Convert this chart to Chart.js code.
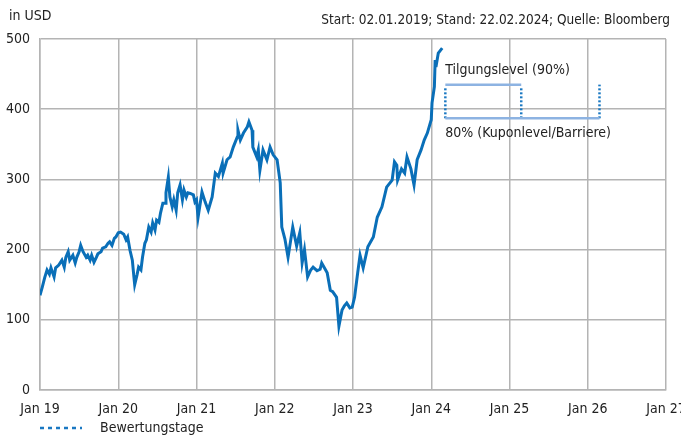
<!DOCTYPE html>
<html>
<head>
<meta charset="utf-8">
<script src="https://cdn.jsdelivr.net/npm/chart.js@4"></script>
<style>
html, body { margin: 0; padding: 0; background: #fff; }
</style>
</head>
<body>
<canvas id="chart" width="681" height="437"></canvas>
<script>
const FONT = "'Liberation Sans Narrow', 'DejaVu Sans Condensed', 'Arial Narrow', sans-serif";

// price history, x in decimal years
const dates = [
  2019.00, 2019.03, 2019.06, 2019.09, 2019.12, 2019.14, 2019.18, 2019.20, 2019.24, 2019.28,
  2019.31, 2019.33, 2019.36, 2019.38, 2019.42, 2019.45, 2019.47, 2019.50, 2019.52, 2019.55,
  2019.59, 2019.61, 2019.64, 2019.66, 2019.69, 2019.72, 2019.74, 2019.78, 2019.80, 2019.84,
  2019.87, 2019.89, 2019.92, 2019.95, 2019.97, 2020.00, 2020.03, 2020.07, 2020.10, 2020.12,
  2020.15, 2020.18, 2020.20, 2020.21, 2020.24, 2020.26, 2020.29, 2020.31, 2020.34, 2020.36,
  2020.39, 2020.42, 2020.44, 2020.47, 2020.49, 2020.52, 2020.54, 2020.57, 2020.60, 2020.61,
  2020.64, 2020.66, 2020.69, 2020.71, 2020.74, 2020.76, 2020.79, 2020.82, 2020.84, 2020.87,
  2020.89, 2020.92, 2020.96, 2020.98, 2021.00, 2021.02, 2021.07, 2021.11, 2021.15, 2021.20,
  2021.24, 2021.28, 2021.33, 2021.34, 2021.39, 2021.43, 2021.47, 2021.52, 2021.53, 2021.56,
  2021.60, 2021.65, 2021.67, 2021.71, 2021.72, 2021.77, 2021.79, 2021.81, 2021.85, 2021.90,
  2021.94, 2021.98, 2022.03, 2022.07, 2022.09, 2022.13, 2022.17, 2022.23, 2022.28, 2022.32,
  2022.35, 2022.38, 2022.42, 2022.46, 2022.49, 2022.54, 2022.58, 2022.60, 2022.67, 2022.71,
  2022.74, 2022.79, 2022.82, 2022.86, 2022.89, 2022.92, 2022.96, 2022.99, 2023.02, 2023.06,
  2023.09, 2023.13, 2023.19, 2023.26, 2023.31, 2023.37, 2023.43, 2023.50, 2023.53, 2023.56,
  2023.57, 2023.62, 2023.66, 2023.69, 2023.74, 2023.78, 2023.82, 2023.87, 2023.91, 2023.95,
  2024.00, 2024.01, 2024.04, 2024.05, 2024.06, 2024.09, 2024.14
];
const prices = [
  135, 147, 160, 171, 165, 174, 161, 174, 178, 185,
  175, 189, 197, 185, 192, 181, 189, 197, 206, 197,
  189, 192, 185, 192, 182, 189, 194, 197, 202, 204,
  209, 211, 206, 216, 218, 224, 225, 222, 214, 218,
  199, 185, 161, 150, 164, 175, 171, 189, 209, 214,
  232, 225, 238, 228, 242, 239, 252, 266, 266, 281,
  303, 275, 261, 271, 256, 281, 292, 271, 285, 275,
  281, 280, 278, 268, 271, 246, 282, 268, 256, 275,
  309, 304, 323, 309, 328, 332, 346, 360, 370, 356,
  366, 375, 382, 370, 346, 332, 342, 313, 342, 328,
  346, 335, 328, 295, 232, 215, 189, 232, 205, 224,
  181, 200, 161, 171, 175, 170, 172, 181, 167, 142,
  140, 132, 91, 114, 120, 124, 117, 118, 132, 167,
  192, 174, 204, 218, 246, 261, 289, 299, 325, 320,
  299, 315, 309, 332, 315, 292, 328, 342, 356, 366,
  385, 409, 432, 470, 460, 480, 487
];

const yearTicks = [2019, 2020, 2021, 2022, 2023, 2024, 2025, 2026, 2027];
const yearLabels = ['Jan 19', 'Jan 20', 'Jan 21', 'Jan 22', 'Jan 23', 'Jan 24', 'Jan 25', 'Jan 26', 'Jan 27'];

// valuation dates and product levels
const obsDates = [2024.18, 2025.15, 2026.15];
const obsTops = [430, 430, 435];
const redemptionLevel = 435;   // 90%
const couponLevel = 387;       // 80%

const lineBlue = '#0a6fb8';
const levelBlue = '#8db3e2';
const dotBlue = '#1a78c2';

const obsSets = obsDates.map((d, i) => ({
  data: [{ x: d, y: couponLevel }, { x: d, y: obsTops[i] }],
  borderColor: dotBlue,
  borderWidth: 2.5,
  borderDash: [2, 2],
  pointRadius: 0
}));

const textPlugin = {
  id: 'texts',
  afterDraw(chart) {
    const ctx = chart.ctx;
    const xs = chart.scales.x, ys = chart.scales.y;
    ctx.save();
    ctx.fillStyle = '#222';
    ctx.font = '14px ' + FONT;
    ctx.textBaseline = 'middle';
    ctx.textAlign = 'left';
    ctx.fillText('in USD', 9, 16);
    ctx.textAlign = 'right';
    ctx.font = '13.5px ' + FONT;
    ctx.fillText('Start: 02.01.2019; Stand: 22.02.2024; Quelle: Bloomberg', 670, 20);
    ctx.font = '14px ' + FONT;

    const lx = xs.getPixelForValue(obsDates[0]);
    ctx.textAlign = 'left';
    ctx.fillText('Tilgungslevel (90%)', lx, ys.getPixelForValue(redemptionLevel) - 14);
    ctx.fillText('80% (Kuponlevel/Barriere)', lx, ys.getPixelForValue(couponLevel) + 15);

    // legend
    ctx.strokeStyle = dotBlue;
    ctx.lineWidth = 2.5;
    ctx.setLineDash([4, 4]);
    ctx.beginPath();
    ctx.moveTo(40, 428);
    ctx.lineTo(82, 428);
    ctx.stroke();
    ctx.setLineDash([]);
    ctx.fillText('Bewertungstage', 100, 428);
    ctx.restore();
  }
};

new Chart(document.getElementById('chart').getContext('2d'), {
  type: 'line',
  data: {
    datasets: [
      {
        data: dates.map((d, i) => ({ x: d, y: prices[i] })),
        borderColor: lineBlue,
        borderWidth: 3,
        pointRadius: 0,
        tension: 0
      },
      {
        data: [{ x: obsDates[0], y: redemptionLevel }, { x: obsDates[1], y: redemptionLevel }],
        borderColor: levelBlue,
        borderWidth: 2.5,
        pointRadius: 0
      },
      {
        data: [{ x: obsDates[0], y: couponLevel }, { x: obsDates[2], y: couponLevel }],
        borderColor: levelBlue,
        borderWidth: 2.5,
        pointRadius: 0
      },
      ...obsSets
    ]
  },
  options: {
    responsive: false,
    devicePixelRatio: 1,
    animation: false,
    layout: { padding: { top: 39, right: 15, left: 0, bottom: 0 } },
    plugins: { legend: { display: false }, tooltip: { enabled: false } },
    scales: {
      x: {
        type: 'linear',
        min: 2019,
        max: 2027,
        afterBuildTicks: s => { s.ticks = yearTicks.map(v => ({ value: v })); },
        afterFit: s => { s.height = 47; s.paddingLeft = 0; s.paddingRight = 0; },
        grid: { color: '#b4b4b4', lineWidth: 1.5, drawTicks: false },
        border: { color: '#b4b4b4', width: 1.5 },
        ticks: {
          padding: 11,
          maxRotation: 0,
          autoSkip: false,
          color: '#222',
          font: { family: FONT, size: 14 },
          callback: (v) => yearLabels[yearTicks.indexOf(v)]
        }
      },
      y: {
        min: 0,
        max: 500,
        afterFit: s => { s.width = 40; s.paddingTop = 0; s.paddingBottom = 0; },
        grid: { color: '#b4b4b4', lineWidth: 1.5, drawTicks: false },
        border: { color: '#b4b4b4', width: 1.5 },
        ticks: {
          stepSize: 100,
          padding: 10,
          color: '#222',
          font: { family: FONT, size: 14 }
        }
      }
    }
  },
  plugins: [textPlugin]
});
</script>
</body>
</html>
